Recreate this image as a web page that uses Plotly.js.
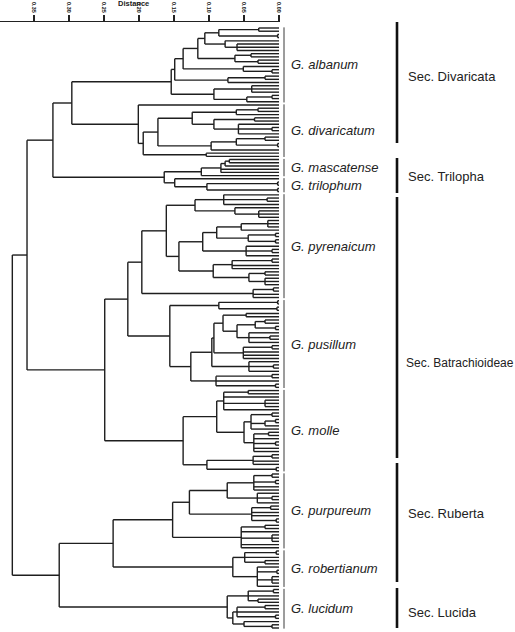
<!DOCTYPE html>
<html><head><meta charset="utf-8">
<script src="https://cdn.plot.ly/plotly-3.0.1.min.js"></script>
<style>html,body{margin:0;padding:0;background:#fff;} #chart{width:515px;height:632px;}</style>
</head><body><div id="chart"></div>
<script>
// ---- Tree data: "x" = leaf, "(...)h" = join at distance h ----
const albanum = `(((((((x,x)0.029,(x,x)0.002)0.086,(x,(x,x,x)0.06)0.077)0.106,
  ((x,x)0.04,(x,x)0.03)0.063)0.116,(x,(x,x)0.01)0.051)0.137,((x,x)0.02,x)0.073)0.149,
  ((x,x,x)0.039,((x,x)0.01,x)0.046)0.093)0.154`;
const divaricatum = `(x,
 (((((x,x)0.03,x)0.061,((x,x)0.035,(x,(x,x)0.01,x)0.058)0.093)0.124,
   (((x,x)0.02,(x,x)0.002)0.061,x)0.097)0.173,
  (x,x)0.104)0.194)0.201`;
const mascatense = `((((x,x)0.071,x)0.077,x,x)0.083,x)0.111`;
const trilophum = `(x,((x,x)0.002,(x,x)0.002)0.103)0.149`;
const pyrenaicum = `((
  ((x,(x,x)0.017,x)0.079,(x,(x,x,x)0.029)0.063)0.12,
  (((((x,x,x)0.016,x)0.054,((x,x)0.005,(x,x)0.005)0.044)0.089,(x,(x,x)0.01,x)0.047)0.109,
   (((x,x)0.01,x,x)0.067,((x,x)0.02,(x,x,x)0.02)0.043)0.094)0.143
 )0.161,((x,x)0.008,x,x)0.037)0.196`;
const pusillum = `(((x,x)0.002,(x,x)0.003)0.086,
 (((((x,x)0.047,(((x,x)0.02,(x,x)0.005)0.034,(x,(x,x)0.013,x)0.043)0.06)0.08,
    ((x,x)0.01,x,x,x)0.051)0.093,
   (x,(x,x)0.008,x)0.043)0.096,
  ((x,x)0.01,x,(x,x)0.005)0.09)0.126)0.156`;
const molle = `((((x,x)0.044,x,(x,x,x)0.02,x)0.079,
  (((x,x)0.01,((x,x)0.005,x)0.02,x)0.04,((x,x)0.015,x,(x,x)0.005,x,x)0.036)0.05)0.089,
 (((x,x)0.01,x,x)0.037,(x,x)0.004)0.103)0.137`;
const purpureum = `(((((x,x)0.01,(x,x)0.005,x,x)0.036,(x,(x,x)0.01,x)0.031)0.074,
  ((x,x)0.012,x,x,(x,x)0.004)0.039)0.128,
 ((x,x)0.02,x,(x,x,x)0.01,x,x)0.054)0.152`;
const robertianum = `(((x,x)0.004,x,(x,x)0.02)0.049,(x,(x,x)0.003,(x,x,x)0.01,x)0.031)0.066`;
const lucidum = `(((x,x)0.008,x,(x,x)0.03)0.044,(((x,x)0.02,x,(x,x)0.005)0.06,(x,(x,x)0.01)0.05)0.066)0.074`;

// higher-level joins (distance)
const joinDivaricata = 0.296, joinTrilopha = 0.164, joinUpperLeft = 0.323;
const joinPyrPus = 0.216, joinBatrach = 0.249, joinUpper = 0.36;
const joinRuberta = 0.237, joinLower = 0.314, joinRoot = 0.381;

const speciesNames = ['G. albanum','G. divaricatum','G. mascatense','G. trilophum','G. pyrenaicum',
  'G. pusillum','G. molle','G. purpureum','G. robertianum','G. lucidum'];
const speciesTrees = [albanum,divaricatum,mascatense,trilophum,pyrenaicum,pusillum,molle,purpureum,robertianum,lucidum];
const sectionNames = ['Sec. Divaricata','Sec. Trilopha','Sec. Batrachioideae','Sec. Ruberta','Sec. Lucida'];
const distanceTicks = [0.35,0.30,0.25,0.20,0.15,0.10,0.05,0.00];

// ---- compose full tree ----
const J = (a,b,h)=>`(${a},${b})${h}`;
const trilopha = J(mascatense, trilophum, joinTrilopha);
const divaricata = J(albanum, divaricatum, joinDivaricata);
const upperLeft = J(divaricata, trilopha, joinUpperLeft);
const batrach = J(J(pyrenaicum, pusillum, joinPyrPus), molle, joinBatrach);
const upper = J(upperLeft, batrach, joinUpper);
const lower = J(J(purpureum, robertianum, joinRuberta), lucidum, joinLower);
const full = J(upper, lower, joinRoot);

function parseTree(s){
  let i=0;
  const skip=()=>{while(i<s.length && /\s/.test(s[i])) i++;};
  function node(){
    skip();
    if(s[i]==='x'){ i++; return {h:0,ch:null}; }
    if(s[i]==='('){
      i++; const ch=[];
      while(true){ ch.push(node()); skip();
        if(s[i]===','){i++;continue;}
        if(s[i]===')'){i++;break;}
        throw new Error('bad tree at '+i);
      }
      skip(); const j=i; while(i<s.length && /[0-9.]/.test(s[i])) i++;
      return {h:parseFloat(s.slice(j,i)),ch};
    }
    throw new Error('bad char '+s[i]+' at '+i);
  }
  const r=node(); skip();
  if(i!==s.length) throw new Error('trailing text at '+i);
  return r;
}
const root = parseTree(full);
let leafIdx=0; const xs=[], ys=[];
function place(n){
  if(!n.ch){ n.y=leafIdx++; return; }
  n.ch.forEach(place);
  const a=n.ch[0].y, b=n.ch[n.ch.length-1].y;
  n.y=(a+b)/2;
  xs.push(n.h,n.h,null); ys.push(a,b,null);
  n.ch.forEach(c=>{ xs.push(n.h,c.h,null); ys.push(c.y,c.y,null); });
}
place(root);
const N = leafIdx;

// species leaf ranges
const counts = speciesTrees.map(s=>(s.match(/x/g)||[]).length);
const ranges=[]; let acc=0;
counts.forEach(c=>{ ranges.push([acc, acc+c-1]); acc+=c; });

// pixel helpers (plot area: x 0..280 px, y 22..632 px)
const PX = px=>px/280;
const spacing = 600/(N-1), y0px = 28;
const yIdx = py=>(py-y0px)/spacing;

const shapes=[], annotations=[];
const font = 'Liberation Sans, Arial, sans-serif';
ranges.forEach((r,k)=>{
  shapes.push({type:'line',xref:'paper',yref:'y',x0:PX(284),x1:PX(284),y0:r[0]-0.2,y1:r[1]+0.2,
    line:{color:'#3a3a3a',width:1}});
  annotations.push({xref:'paper',yref:'y',x:PX(289),y:(r[0]+r[1])/2,xanchor:'left',yanchor:'middle',
    showarrow:false,text:'<i>'+speciesNames[k]+'</i>',font:{family:font,size:13,color:'#222'}});
});
const secBars = [[21,143],[158,193],[197,458],[463,582],[588,628]];
const secLabelY = [76,176,363,513,612];
sectionNames.forEach((nm,k)=>{
  shapes.push({type:'line',xref:'paper',yref:'y',x0:PX(397),x1:PX(397),y0:yIdx(secBars[k][0]),y1:yIdx(secBars[k][1]),
    line:{color:'#111',width:2.6}});
  const long = nm.length>16;
  annotations.push({xref:'paper',yref:'y',x:PX(long?404:406),y:yIdx(secLabelY[k]),xanchor:'left',yanchor:'middle',
    showarrow:false,text:nm,font:{family:font,size:long?12:13,color:'#222'}});
});
annotations.push({xref:'paper',yref:'paper',x:PX(133),y:1+(22-3.5)/610,xanchor:'center',yanchor:'middle',
  showarrow:false,text:'<b>Distance</b>',font:{family:font,size:7.5,color:'#222'}});

const trace = {type:'scatter',mode:'lines',x:xs,y:ys,line:{color:'#1e1e1e',width:1.4},hoverinfo:'skip',cliponaxis:false};

const layout = {
  width:515,height:632,margin:{l:0,r:235,t:22,b:0},
  paper_bgcolor:'#fff',plot_bgcolor:'#fff',showlegend:false,
  xaxis:{range:[0.3986,-0.0014],side:'top',showline:true,linecolor:'#222',linewidth:1.3,
    ticks:'outside',ticklen:6,tickwidth:1.3,tickcolor:'#222',
    tickvals:distanceTicks,ticktext:distanceTicks.map(v=>v.toFixed(2)),tickangle:90,
    tickfont:{family:font,size:5.5,weight:'bold',color:'#111'},showgrid:false,zeroline:false,fixedrange:true},
  yaxis:{range:[yIdx(632),yIdx(22)],visible:false,fixedrange:true},
  shapes, annotations
};
Plotly.newPlot('chart',[trace],layout,{displayModeBar:false,staticPlot:true});
</script></body></html>
